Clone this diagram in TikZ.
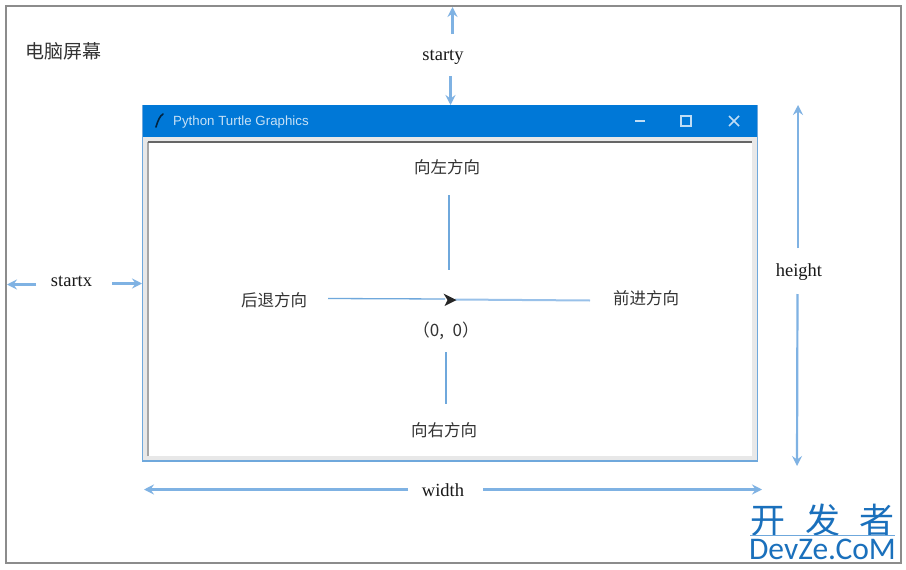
\documentclass[tikz,border=0pt]{standalone}
\usepackage{fontspec}
\setmainfont{Liberation Serif}
\newfontfamily\cjk{Noto Sans CJK SC}
\newfontfamily\uisans{Liberation Sans}
\newfontfamily\brand{Carlito}
\usetikzlibrary{arrows.meta}
\definecolor{winblue}{HTML}{0078D7}
\definecolor{arrowblue}{HTML}{7FB2E3}
\definecolor{axisblue}{HTML}{6FA8DC}
\definecolor{brandblue}{HTML}{1A70BC}
\tikzset{
  x=1pt,y=-1pt,
  dim/.style={draw=arrowblue,line width=2.2pt,-{Stealth[length=10pt,width=10pt,inset=3.5pt]}},
  axis/.style={draw=axisblue,line width=1.6pt},
  lat/.style={font=\fontsize{18.5}{18}\selectfont,text=black!90,inner sep=0pt},
  zh/.style={font=\cjk\fontsize{16.5}{17}\selectfont,text=black!80,inner sep=0pt},
}
\begin{document}
\begin{tikzpicture}
\useasboundingbox (0,0) rectangle (906,570);
\fill[white] (0,0) rectangle (906,570);
\draw[draw=black!45,line width=1.4pt] (6,6) rectangle (901,563);
% window
\fill[black!9] (142,105) rectangle (758,461);
\fill[white] (149,143) rectangle (752,456);
\draw[black!35,line width=1.4pt] (148,456) -- (148,142);
\draw[black!60,line width=1.8pt] (148,142) -- (752,142);
\fill[winblue] (142,105) rectangle (758,137);
\draw[draw=axisblue,line width=1.4pt] (142.6,105) -- (142.6,461) -- (757.6,461) -- (757.6,105);
% title bar
\draw[black!70!winblue,line width=1.6pt,line cap=round] (156,127) .. controls (158,120) and (160,116) .. (163,114);
\node[anchor=west,inner sep=0pt,text=white!78!winblue,font=\uisans\fontsize{13.3}{14}\selectfont] (title) at (173,122.5) {Python Turtle Graphics};
\draw[white!75!winblue,line width=1.8pt] (635,121) -- (645,121);
\draw[white!75!winblue,line width=1.4pt] (681,116) rectangle (691,126);
\draw[white!75!winblue,line width=1.7pt] (729,116) -- (739,126) (739,116) -- (729,126);
% labels
\node[zh,font=\cjk\fontsize{19}{19}\selectfont] (screen) at (64,51) {电脑屏幕};
\node[lat] (starty) at (443,57.5) {starty};
\node[lat] (startx) at (71.5,281.5) {startx};
\node[lat] (height) at (799,272.5) {height};
\node[lat] (width) at (443,490.5) {width};
\node[zh] (left) at (447,167) {向左方向};
\node[zh] (right) at (444,430) {向右方向};
\node[zh] (back) at (274,300) {后退方向};
\node[zh] (fwd) at (646,298) {前进方向};
\node[zh,font=\cjk\fontsize{17}{17}\selectfont] (origin) at (446,331) {（0,\hspace{0.5em}0）};
% free ends of connectors
\coordinate (stTop) at (452.5,7);
\coordinate (stTopS) at (452.5,34);
\coordinate (stBot) at (450.5,105);
\coordinate (stBotS) at (450.5,76);
\coordinate (sxL) at (7,284.5);
\coordinate (sxLS) at (36,284.5);
\coordinate (sxR) at (142,283.5);
\coordinate (sxRS) at (112,283.5);
\coordinate (hT) at (798,105);
\coordinate (hTS) at (798,248);
\coordinate (hB) at (797,466);
\coordinate (hBS) at (797.5,294);
\coordinate (wL) at (144,489.5);
\coordinate (wLS) at (408,489.5);
\coordinate (wR) at (762,489.5);
\coordinate (wRS) at (483,489.5);
\draw[dim] (stTopS) -- (stTop);
\draw[dim] (stBotS) -- (stBot);
\draw[dim] (sxLS) -- (sxL);
\draw[dim] (sxRS) -- (sxR);
\draw[dim] (hTS) -- (hT);
\draw[dim] (hBS) -- (hB);
\draw[dim] (wLS) -- (wL);
\draw[dim] (wRS) -- (wR);
% axes
\coordinate (upA) at (449,195);
\coordinate (upB) at (449,270);
\coordinate (dnA) at (446,352);
\coordinate (dnB) at (446,404);
\coordinate (bkA) at (328,298.5);
\coordinate (bkB) at (445,299);
\coordinate (fwA) at (455,299.5);
\coordinate (fwB) at (590,300.5);
\draw[axis] (upA) -- (upB);
\draw[axis] (dnA) -- (dnB);
\draw[axis,line width=1.3pt] (bkA) -- (bkB);
\draw[axis,draw=arrowblue!80,line width=2pt] (fwA) -- (fwB);
\fill[black!85] (443.5,293.5) -- (456.5,300) -- (444.5,306) -- (447.5,300) -- cycle;
% watermark
\node[anchor=center,inner sep=0pt,text=brandblue,font=\cjk\fontsize{35}{36}\selectfont] (brandzh) at (822.5,520) {开\hspace{0.55em}发\hspace{0.55em}者};
\draw[draw=axisblue,line width=.8pt] (750,535.5) -- (895,535.5);
\node[anchor=center,inner sep=0pt,text=brandblue,font=\brand\fontsize{31.5}{32}\selectfont] (brandlat) at (822.5,549.5) {DevZe.CoM};
\end{tikzpicture}
\end{document}
